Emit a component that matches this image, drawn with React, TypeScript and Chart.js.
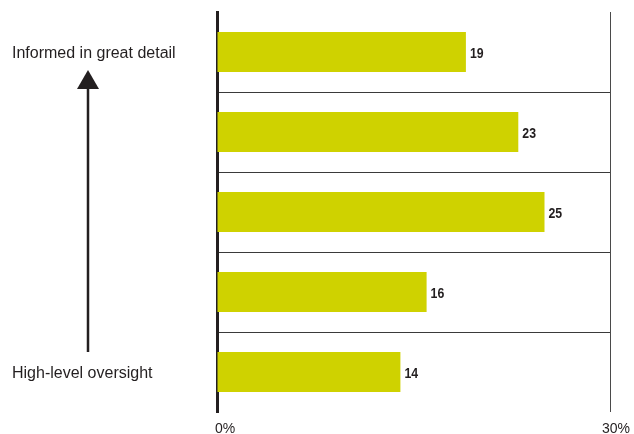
import React, { useEffect, useRef } from "react";
import { Chart, registerables } from "chart.js";

Chart.register(...registerables);

const categories = ["Informed in great detail", "", "", "", "High-level oversight"];
const values = [19, 23, 25, 16, 14];
const xTickLabels = ["0%", "30%"];
const xMin = 0;
const xMax = 30;

const BAR_COLOR = "#CFD200";
const TEXT_COLOR = "#231F20";
const FONT = '"Liberation Sans", Arial, Helvetica, sans-serif';

const annotatePlugin = {
  id: "annotate",
  afterDatasetsDraw(chart: any) {
    const ctx = chart.ctx;
    const meta = chart.getDatasetMeta(0);
    ctx.save();
    // value labels (condensed bold)
    ctx.fillStyle = TEXT_COLOR;
    ctx.font = `bold 15px ${FONT}`;
    ctx.textAlign = "left";
    ctx.textBaseline = "middle";
    meta.data.forEach((bar: any, i: number) => {
      ctx.save();
      ctx.translate(bar.x + 4, bar.y + 1.5);
      ctx.scale(0.82, 1);
      ctx.fillText(String(values[i]), 0, 0);
      ctx.restore();
    });

    const xs = chart.scales.x;
    const ys = chart.scales.y;

    // x tick labels
    ctx.font = `14px ${FONT}`;
    ctx.textBaseline = "alphabetic";
    ctx.fillText(xTickLabels[0], xs.getPixelForValue(xMin) - 2, 433);
    ctx.fillText(xTickLabels[1], xs.getPixelForValue(xMax) - 8, 433);

    // left category labels
    ctx.font = `16px ${FONT}`;
    ctx.textBaseline = "middle";
    categories.forEach((c, i) => {
      if (!c) return;
      ctx.fillText(c, 12, ys.getPixelForValue(i) + 2);
    });

    // arrow
    const topY = ys.getPixelForValue(0) + 18;
    const botY = ys.getPixelForValue(categories.length - 1) - 20;
    const ax = 88;
    ctx.strokeStyle = TEXT_COLOR;
    ctx.lineWidth = 2.5;
    ctx.beginPath();
    ctx.moveTo(ax, botY);
    ctx.lineTo(ax, topY + 18);
    ctx.stroke();
    ctx.beginPath();
    ctx.moveTo(ax, topY);
    ctx.lineTo(ax - 11, topY + 19);
    ctx.lineTo(ax + 11, topY + 19);
    ctx.closePath();
    ctx.fill();
    ctx.restore();
  },
};

export default function App() {
  const ref = useRef<HTMLCanvasElement>(null);
  useEffect(() => {
    if (!ref.current) return;
    const chart = new Chart(ref.current, {
      type: "bar",
      data: {
        labels: categories,
        datasets: [
          {
            data: values,
            backgroundColor: BAR_COLOR,
            borderWidth: 0,
            barPercentage: 0.5,
            categoryPercentage: 1,
          },
        ],
      },
      options: {
        indexAxis: "y",
        animation: false,
        responsive: false,
        devicePixelRatio: 1,
        layout: { padding: { left: 0, right: 24, top: 12, bottom: 22 } },
        plugins: { legend: { display: false }, tooltip: { enabled: false } },
        scales: {
          x: {
            min: xMin,
            max: xMax,
            ticks: { display: false, stepSize: 30 },
            grid: {
              drawTicks: false,
              color: (c: any) => (c.tick && c.tick.value === xMax ? "#4a4a4a" : "rgba(0,0,0,0)"),
              lineWidth: 1,
            },
            border: { display: false },
            afterFit: (s: any) => {
              s.height = 0;
            },
          },
          y: {
            ticks: { display: false },
            grid: {
              offset: true,
              drawTicks: false,
              color: (c: any) =>
                !c.tick || c.index === 0 || c.index >= categories.length ? "rgba(0,0,0,0)" : "#3a3a3a",
              lineWidth: 1,
            },
            border: { display: true, color: TEXT_COLOR, width: 3 },
            afterFit: (s: any) => {
              s.width = 217;
            },
          },
        },
      },
      plugins: [annotatePlugin],
    });
    return () => chart.destroy();
  }, []);
  return (
    <div style={{ position: "fixed", left: 0, top: 0, width: 634, height: 434, background: "#fff" }}>
      <canvas ref={ref} width={634} height={434} style={{ display: "block" }} />
    </div>
  );
}
